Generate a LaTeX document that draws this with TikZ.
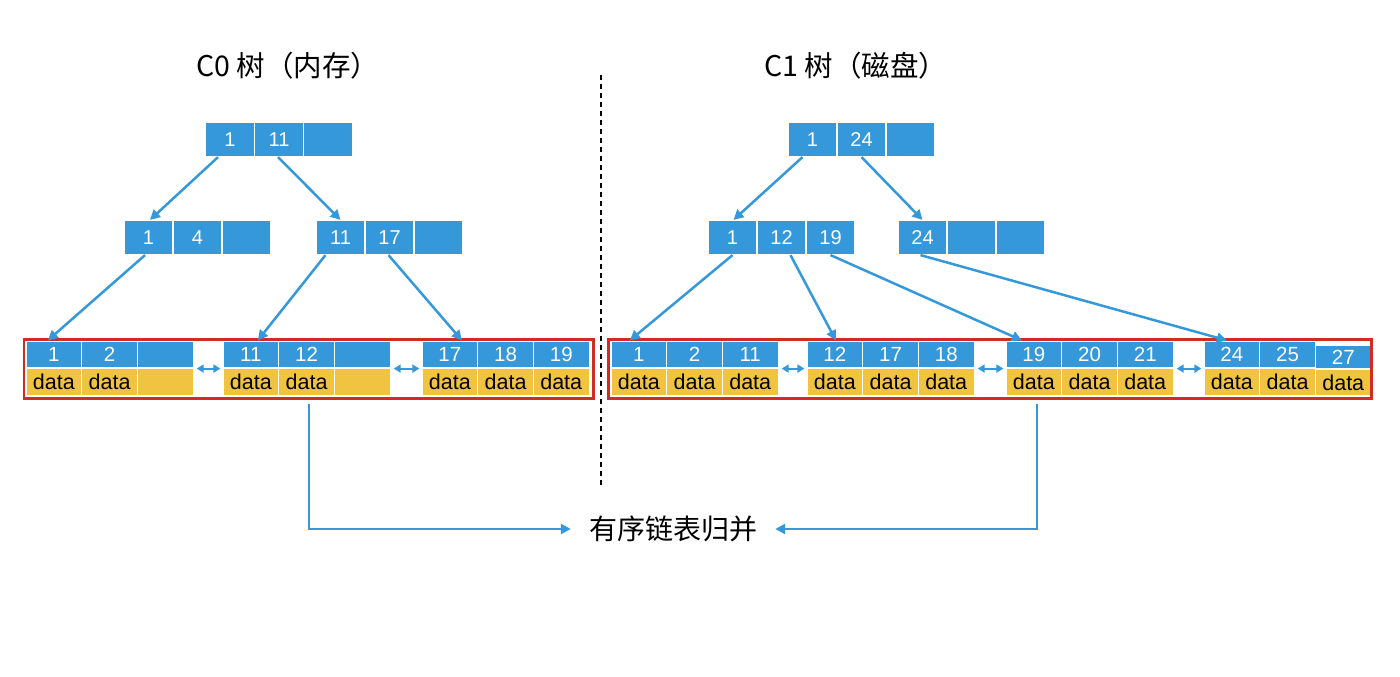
\documentclass[tikz,border=0pt]{standalone}
\usepackage{fontspec}
\setmainfont{Liberation Sans}
\newfontfamily\cjk{Noto Sans CJK SC}
\usetikzlibrary{arrows.meta,calc}
\definecolor{cblue}{RGB}{52,152,219}
\definecolor{cyel}{RGB}{240,196,64}
\definecolor{cred}{RGB}{208,44,36}
\tikzset{
  tcell/.style={fill=cblue, draw=white, line width=1.2pt, minimum width=49pt, minimum height=34pt, inner sep=0pt, text=white, font=\fontsize{20}{20}\selectfont},
  lkey/.style={fill=cblue, draw=white, line width=1.2pt, minimum width=55.7pt, minimum height=27pt, inner sep=0pt, text=white, font=\fontsize{20.5}{20}\selectfont},
  ldata/.style={fill=cyel, draw=white, line width=1.2pt, minimum width=55.7pt, minimum height=28pt, inner sep=0pt, text=black, font=\fontsize{21.5}{20}\selectfont},
  conn/.style={cblue, line width=2.5pt, -{Triangle[length=10pt,width=10pt]}},
  dbl/.style={cblue, line width=2.2pt, {Triangle[length=7pt,width=8pt]}-{Triangle[length=7pt,width=8pt]}},
  redbox/.style={cred, line width=2.8pt},
  divider/.style={black, line width=1.8pt, dash pattern=on 5pt off 4pt},
  title/.style={font=\cjk\fontsize{28.5}{29}\selectfont, inner sep=0pt}
}
\newcommand\leafgrp[4]{%
  \foreach \k [count=\i] in {#3} {\node[lkey] (#1k\i) at ({#2+27.85+55.7*(\i-1)},354.5) {\k};}
  \foreach \d [count=\i] in {#4} {\node[ldata] (#1d\i) at ({#2+27.85+55.7*(\i-1)},382) {\d};}
}
\begin{document}
\begin{tikzpicture}[x=1pt,y=-1pt]
\useasboundingbox (0,0) rectangle (1400,677);
% titles
\node[title] (t0) at (288,66) {C0 树（内存）};
\node[title] (t1) at (856,66) {C1 树（磁盘）};
% divider
\draw[divider] (601,75) -- (601,485);
% left tree
\foreach \t [count=\i] in {1,11,{}} \node[tcell] (la\i) at ({205.5+24.5+49*(\i-1)},139.5) {\t};
\foreach \t [count=\i] in {1,4,{}} \node[tcell] (lb\i) at ({124+24.5+49*(\i-1)},237.5) {\t};
\foreach \t [count=\i] in {11,17,{}} \node[tcell] (lc\i) at ({316+24.5+49*(\i-1)},237.5) {\t};
% right tree
\foreach \t [count=\i] in {1,24,{}} \node[tcell] (ra\i) at ({788+24.5+49*(\i-1)},139.5) {\t};
\foreach \t [count=\i] in {1,12,19} \node[tcell] (rb\i) at ({708+24.5+49*(\i-1)},237.5) {\t};
\foreach \t [count=\i] in {24,{},{}} \node[tcell] (rc\i) at ({898+24.5+49*(\i-1)},237.5) {\t};
% leaves left
\leafgrp{La}{26}{1,2,{}}{data,data,{}}
\leafgrp{Lb}{223}{11,12,{}}{data,data,{}}
\leafgrp{Lc}{422}{17,18,19}{data,data,data}
% leaves right
\leafgrp{Ra}{611}{1,2,11}{data,data,data}
\leafgrp{Rb}{807}{12,17,18}{data,data,data}
\leafgrp{Rc}{1006}{19,20,21}{data,data,data}
\leafgrp{Rd}{1204}{24,25}{data,data}
\node[lkey, minimum height=24pt] (Rdk3) at ({1204+27.85+111.4},357) {27};
\node[ldata, minimum height=27pt] (Rdd3) at ({1204+27.85+111.4},382.5) {\raisebox{-2pt}{data}};
% red boxes
\draw[redbox] (24,339.5) rectangle (593.5,398.5);
\draw[redbox] (608.5,339.5) rectangle (1371.5,398.5);
% double arrows
\draw[dbl] ([xshift=3pt]Lak3.south east) -- ([xshift=-2pt]Lbk1.south west);
\draw[dbl] ([xshift=3pt]Lbk3.south east) -- ([xshift=-2pt]Lck1.south west);
\draw[dbl] ([xshift=3pt]Rak3.south east) -- ([xshift=-2pt]Rbk1.south west);
\draw[dbl] ([xshift=3pt]Rbk3.south east) -- ([xshift=-2pt]Rck1.south west);
\draw[dbl] ([xshift=3pt]Rck3.south east) -- ([xshift=-2pt]Rdk1.south west);
% tree connectors left
\draw[conn] ([xshift=-12pt]la1.south) -- ([xshift=1.5pt]lb1.north);
\draw[conn] ([xshift=-1pt]la2.south) -- (lc1.north);
\draw[conn] ([xshift=-3.5pt]lb1.south) -- ([xshift=-6pt]Lak1.north);
\draw[conn] ([xshift=-15pt]lc1.south) -- ([xshift=7pt]Lbk1.north);
\draw[conn] ([xshift=-1pt]lc2.south) -- ([xshift=12pt]Lck1.north);
% tree connectors right
\draw[conn] ([xshift=-10pt]ra1.south) -- ([xshift=1pt]rb1.north);
\draw[conn] (ra2.south) -- (rc1.north);
\draw[conn] (rb1.south) -- ([xshift=-9pt]Rak1.north);
\draw[conn] ([xshift=9pt]rb2.south) -- ([xshift=1pt]Rbk1.north);
\draw[conn] (rb3.south) -- ([xshift=-12pt]Rck1.north);
\draw[conn] ([xshift=-2pt]rc1.south) -- ([xshift=-5pt]Rdk1.north);
% merge
\node[font=\cjk\fontsize{28}{28}\selectfont, inner xsep=18pt, inner ysep=2pt] (merge) at (673,529) {有序链表归并};
\draw[conn] ([xshift=2.5pt,yshift=-7pt]Lbd2.south) |- (merge.west);
\draw[conn] ([xshift=3pt,yshift=-7pt]Rcd1.south) |- (merge.east);
\end{tikzpicture}
\end{document}
